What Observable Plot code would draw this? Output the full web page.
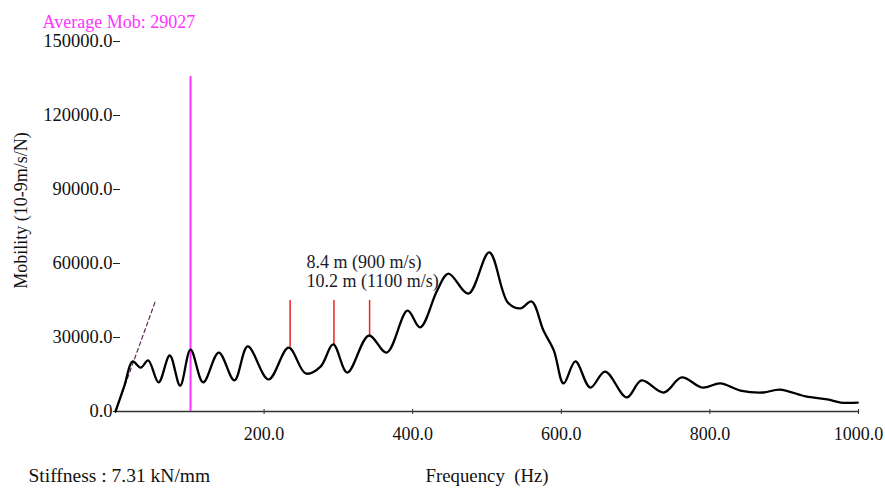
<!DOCTYPE html>
<html>
<head>
<meta charset="utf-8">
<script src="https://cdn.jsdelivr.net/npm/d3@7"></script>
<script src="https://cdn.jsdelivr.net/npm/@observablehq/plot@0.6"></script>
<style>
  html, body { margin: 0; padding: 0; background: white; }
</style>
</head>
<body>
<div id="chart"></div>
<script>
// Mobility curve (Hz, 10-9 m/s/N)
const freq = [0, 12, 23, 34, 44, 58, 73, 87, 101, 118, 139, 160, 178, 206, 233, 256, 276, 293, 312, 341, 365, 393, 410, 433, 448, 475, 503, 528, 545, 560, 576, 590, 603, 619, 639, 659, 688, 708, 738, 762, 790, 814, 841, 872, 894, 929, 958, 976, 999];
const mobility = [0, 10500, 20300, 17800, 20700, 11800, 22700, 10500, 25100, 11800, 23900, 12600, 26400, 13000, 25900, 15400, 18200, 27200, 15800, 30800, 23900, 40900, 34100, 49100, 55900, 47800, 64500, 44200, 41800, 44600, 32800, 24700, 11400, 20300, 9700, 16200, 5700, 12600, 7700, 13800, 9700, 11400, 8500, 7700, 8900, 6100, 4900, 3600, 3600];

// Stiffness (dashed) line
const stiffFreq = [0, 54];
const stiffMob = [0, 45000];

// Average mobility marker
const avgFreq = [101];
const avgTop = [135800];

// Wavelength markers
const markFreq = [235, 294, 342];
const markBase = [26000, 27100, 30800];
const markTop = [45000, 45000, 45000];

// Annotation labels
const noteText = ["8.4 m (900 m/s)", "10.2 m (1100 m/s)"];
const noteFreq = [257, 257];
const noteMob = [60400, 52700];

const yTicks = [0, 30000, 60000, 90000, 120000, 150000];
const xTicks = [200, 400, 600, 800, 1000];

const curve = freq.map((f, i) => ({f, m: mobility[i]}));
const stiff = stiffFreq.map((f, i) => ({f, m: stiffMob[i]}));
const avg = avgFreq.map((f, i) => ({f, top: avgTop[i]}));
const marks = markFreq.map((f, i) => ({f, b: markBase[i], t: markTop[i]}));
const notes = noteText.map((t, i) => ({t, f: noteFreq[i], m: noteMob[i]}));

const chart = Plot.plot({
  width: 885,
  height: 489,
  marginLeft: 115,
  marginRight: 27,
  marginTop: 41,
  marginBottom: 78,
  style: { fontFamily: "Liberation Serif", fontSize: "18px", background: "white", overflow: "visible", color: "#111" },
  x: { domain: [0, 1000] },
  y: { domain: [0, 150000] },
  marks: [
    Plot.axisY({ ticks: yTicks, tickFormat: d => d.toFixed(1), tickSize: 7, tickPadding: 1, dx: 5, label: null, stroke: "#222", fill: "#111", fontSize: 18.5 }),
    Plot.axisX({ ticks: xTicks, tickFormat: d => d.toFixed(1), tickSize: 5, tickPadding: 13, dy: -2, label: null, stroke: "#333", fill: "#111", fontSize: 18 }),
    Plot.ruleY([0], { stroke: "#333", strokeWidth: 1.5 }),
    Plot.ruleX(avg, { x: "f", y1: 0, y2: "top", stroke: "#ff33ff", strokeWidth: 2 }),
    Plot.ruleX(marks, { x: "f", y1: "b", y2: "t", stroke: "#ee2222", strokeWidth: 1.5 }),
    Plot.line(stiff, { x: "f", y: "m", stroke: "#5a2a5a", strokeWidth: 1.2, strokeDasharray: "4,3" }),
    Plot.line(curve, { x: "f", y: "m", stroke: "#000", strokeWidth: 2.3, curve: "catmull-rom" }),
    Plot.text(notes, { x: "f", y: "m", text: "t", textAnchor: "start", fill: "#1a1a2a", fontSize: 18 }),
    Plot.text(["Average Mob: 29027"], { frameAnchor: "top-left", dx: -73, dy: -26, textAnchor: "start", fill: "#ff33ff", fontSize: 18 }),
    Plot.text(["Mobility (10-9m/s/N)"], { frameAnchor: "left", rotate: -90, dx: -94, dy: -16, textAnchor: "middle", fill: "#111", fontSize: 18 }),
    Plot.text(["Stiffness : 7.31 kN/mm"], { frameAnchor: "bottom-left", dx: -87, dy: 70, textAnchor: "start", fill: "#111", fontSize: 19.5 }),
    Plot.text(["Frequency\u00a0\u00a0(Hz)"], { frameAnchor: "bottom-left", dx: 310, dy: 70, textAnchor: "start", fill: "#111", fontSize: 18.8 })
  ]
});
document.getElementById("chart").appendChild(chart);
</script>
</body>
</html>
